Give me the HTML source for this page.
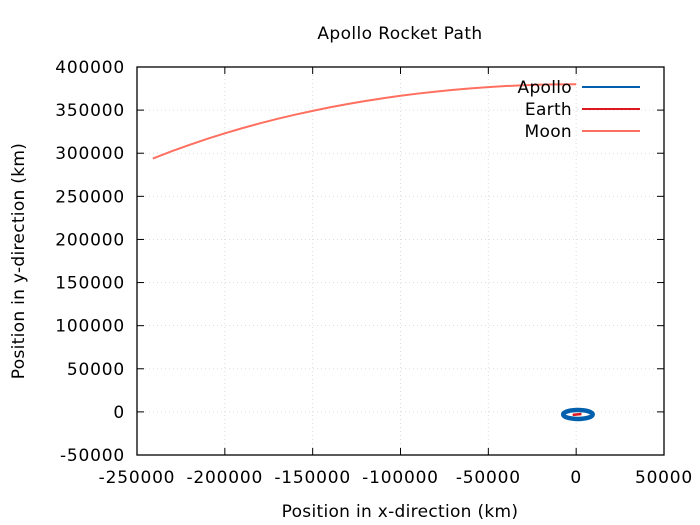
<!DOCTYPE html>
<html><head><meta charset="utf-8"><style>
body{margin:0;background:#fff}
svg{display:block;font-family:"DejaVu Sans","Liberation Sans",sans-serif}
</style></head><body>
<svg id="chart" width="700" height="525">
<text x="400" y="39" text-anchor="middle" font-size="17" letter-spacing="0.4">Apollo Rocket Path</text>
<g id="grid"></g><g id="axes"></g><g id="series"></g>
<text x="400" y="517" text-anchor="middle" font-size="17" letter-spacing="0.3">Position in x-direction (km)</text>
<text transform="translate(24,261) rotate(-90)" text-anchor="middle" font-size="17" letter-spacing="0.3">Position in y-direction (km)</text>
<g id="legend"></g>
</svg>
<script>
const xTicks=[-250000,-200000,-150000,-100000,-50000,0,50000];
const yTicks=[-50000,0,50000,100000,150000,200000,250000,300000,350000,400000];
const moonX=[-241000,-230000,-220000,-210000,-200000,-190000,-180000,-170000,-160000,-150000,-140000,-130000,-120000,-110000,-100000,-90000,-80000,-70000,-60000,-50000,-40000,-30000,-20000,-10000,0];
const moonY=[293800,302500,309800,316700,323100,329100,334700,339900,344700,349100,353300,357100,360600,363700,366600,369200,371500,373500,375200,376700,377900,378800,379500,379900,380000];
const apolloCenter=[1000,-3000];
const apolloRadius=[8400,5200];
const earthX=[-2000,3000];
const earthY=[-3500,-2500];
const L=137,R=664,T=67,B=455;
const sx=v=>L+(v+250000)/300000*(R-L);
const sy=v=>B-(v+50000)/450000*(B-T);
const NS="http://www.w3.org/2000/svg";
function mk(p,t,a){const e=document.createElementNS(NS,t);for(const k in a)e.setAttribute(k,a[k]);p.appendChild(e);return e;}
const grid=document.getElementById('grid'),axes=document.getElementById('axes'),ser=document.getElementById('series'),leg=document.getElementById('legend');
xTicks.forEach(v=>{const x=sx(v);
 const g=mk(grid,'line',{x1:x,x2:x,y1:T,y2:B,stroke:'#ddd','stroke-dasharray':'1,3'});
 
 
 mk(axes,'line',{x1:x,x2:x,y1:B,y2:B-7,stroke:'#000'});
 mk(axes,'line',{x1:x,x2:x,y1:T,y2:T+7,stroke:'#000'});
 const t=mk(axes,'text',{x:x,y:B+28,'text-anchor':'middle','font-size':17,'letter-spacing':0.8});t.textContent=v;
 
 });
yTicks.forEach(v=>{const y=sy(v);
 const g=mk(grid,'line',{x1:L,x2:R,y1:y,y2:y,stroke:'#ddd','stroke-dasharray':'1,3'});
 
 
 mk(axes,'line',{x1:L,x2:L+7,y1:y,y2:y,stroke:'#000'});
 mk(axes,'line',{x1:R,x2:R-7,y1:y,y2:y,stroke:'#000'});
 const t=mk(axes,'text',{x:L-12,y:y+6,'text-anchor':'end','font-size':17,'letter-spacing':0.8});t.textContent=v;
 
 });
const fr=mk(axes,'rect',{x:L,y:T,width:R-L,height:B-T,fill:'none',stroke:'#000','stroke-width':1.3});


const ap=mk(ser,'ellipse',{cx:sx(apolloCenter[0]),cy:sy(apolloCenter[1]),rx:apolloRadius[0]*(R-L)/300000,ry:apolloRadius[1]*(B-T)/450000,fill:'none',stroke:'#0060ad','stroke-width':4.5});


const ea=mk(ser,'line',{x1:sx(earthX[0]),y1:sy(earthY[0]),x2:sx(earthX[1]),y2:sy(earthY[1]),stroke:'#dd181f','stroke-width':2.5});


const mo=mk(ser,'polyline',{points:moonX.map((x,i)=>sx(x)+','+sy(moonY[i])).join(' '),fill:'none',stroke:'#ff7060','stroke-width':2});


[['Apollo','#0060ad'],['Earth','#dd181f'],['Moon','#ff7060']].forEach((d,i)=>{const y=87+i*22;
 const t=mk(leg,'text',{x:572,y:y+6,'text-anchor':'end','font-size':17,'letter-spacing':0.3});t.textContent=d[0];
 
 
 const l=mk(leg,'line',{x1:582,x2:640,y1:y,y2:y,stroke:d[1],'stroke-width':2});
 
 });
</script>
</body></html>
